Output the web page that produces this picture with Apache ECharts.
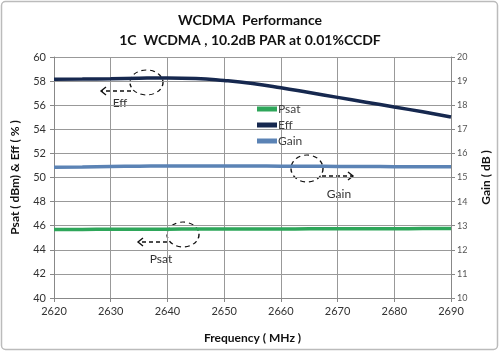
<!DOCTYPE html>
<html>
<head>
<meta charset="utf-8">
<script src="https://cdn.jsdelivr.net/npm/echarts@6/dist/echarts.min.js"></script>
<style>
  html, body { margin: 0; padding: 0; background: #fff; }
  #main { width: 500px; height: 352px; }
</style>
</head>
<body>
<div id="main"></div>
<script>
// data
var freq = [2620, 2625, 2630, 2635, 2640, 2645, 2650, 2655, 2660, 2665, 2670, 2675, 2680, 2685, 2690];
var psat = [45.68, 45.69, 45.70, 45.70, 45.71, 45.72, 45.72, 45.73, 45.73, 45.74, 45.74, 45.75, 45.75, 45.76, 45.76];
var eff = [58.15, 58.17, 58.2, 58.24, 58.26, 58.22, 58.05, 57.8, 57.45, 57.05, 56.65, 56.25, 55.85, 55.45, 55.02];
var gain = [15.43, 15.44, 15.46, 15.47, 15.48, 15.48, 15.48, 15.48, 15.47, 15.47, 15.46, 15.46, 15.45, 15.45, 15.45];

function pairs(ys) {
  return freq.map(function (f, i) { return [f, ys[i]]; });
}

var font = 'Lato, "Open Sans", sans-serif';
var myChart = echarts.init(document.getElementById('main'));

// dashed ellipse + dashed arrow + label, for the hand-drawn callouts
function callout(cx, cy, rx, ry, x1, x2, ay, tx, ty, label) {
  var dir = x2 < x1 ? 1 : -1;
  return [
    { type: 'circle', shape: { cx: 0, cy: 0, r: rx }, x: cx, y: cy, scaleY: ry / rx,
      style: { fill: 'none', stroke: '#111', lineWidth: 1.4, lineDash: [5, 4] } },
    { type: 'line', shape: { x1: x1, y1: ay, x2: x2, y2: ay },
      style: { stroke: '#111', lineWidth: 1.4, lineDash: [4, 3] } },
    { type: 'polyline', shape: { points: [[x2 + dir * 5, ay - 4], [x2, ay], [x2 + dir * 5, ay + 4]] },
      style: { fill: 'none', stroke: '#111', lineWidth: 1.4 } },
    { type: 'text', x: tx, y: ty,
      style: { text: label, font: '12px ' + font, fill: '#333', align: 'center', verticalAlign: 'middle' } }
  ];
}

var option = {
  title: [{
    text: 'WCDMA  Performance',
    left: 'center', top: 8,
    textStyle: { fontFamily: font, fontSize: 14, fontWeight: 'bold', color: '#111' }
  }, {
    text: '1C  WCDMA , 10.2dB PAR at 0.01%CCDF',
    left: 'center', top: 28,
    textStyle: { fontFamily: font, fontSize: 14, fontWeight: 'bold', color: '#111' }
  }],
  legend: {
    orient: 'vertical',
    left: 252, top: 98,
    itemWidth: 20, itemHeight: 5, itemGap: 4,
    icon: 'rect',
    textStyle: { fontFamily: font, fontSize: 12, color: '#404040', padding: [0, 0, 0, -4] },
    data: ['Psat', 'Eff', 'Gain']
  },
  grid: { left: 54, right: 47, top: 57, bottom: 54 },
  xAxis: {
    type: 'value',
    min: 2620, max: 2690, interval: 10,
    name: 'Frequency ( MHz )',
    nameLocation: 'middle', nameGap: 34,
    nameTextStyle: { fontFamily: font, fontSize: 12, fontWeight: 'bold', color: '#111' },
    axisLine: { lineStyle: { color: '#888' } },
    axisTick: { show: true, length: 4, lineStyle: { color: '#888' } },
    axisLabel: { fontFamily: font, fontSize: 11, color: '#333', margin: 8,
      formatter: function (v) { return String(v); } },
    splitLine: { show: true, lineStyle: { color: '#999', width: 1 } }
  },
  yAxis: [{
    type: 'value',
    min: 40, max: 60, interval: 2,
    name: 'Psat ( dBm) & Eff ( % )',
    nameLocation: 'middle', nameGap: 33,
    nameTextStyle: { fontFamily: font, fontSize: 12, fontWeight: 'bold', color: '#111' },
    axisLine: { show: true, lineStyle: { color: '#888' } },
    axisTick: { show: true, length: 4, lineStyle: { color: '#888' } },
    axisLabel: { fontFamily: font, fontSize: 11, color: '#333', margin: 8 },
    splitLine: { show: true, lineStyle: { color: '#999', width: 1 } }
  }, {
    type: 'value',
    min: 10, max: 20, interval: 1,
    name: 'Gain ( dB )',
    nameLocation: 'middle', nameGap: 29,
    nameRotate: 90,
    nameTextStyle: { fontFamily: font, fontSize: 12, fontWeight: 'bold', color: '#111' },
    axisLine: { show: true, lineStyle: { color: '#888' } },
    axisTick: { show: true, length: 4, lineStyle: { color: '#888' } },
    axisLabel: { fontFamily: font, fontSize: 9, color: '#555', margin: 6 },
    splitLine: { show: false }
  }],
  series: [{
    name: 'Psat', type: 'line', yAxisIndex: 0,
    data: pairs(psat), symbol: 'none', smooth: true,
    lineStyle: { color: '#2ea65a', width: 3.5 },
    itemStyle: { color: '#2ea65a' }
  }, {
    name: 'Eff', type: 'line', yAxisIndex: 0,
    data: pairs(eff), symbol: 'none', smooth: true,
    lineStyle: { color: '#16284f', width: 3.5 },
    itemStyle: { color: '#16284f' }
  }, {
    name: 'Gain', type: 'line', yAxisIndex: 1,
    data: pairs(gain), symbol: 'none', smooth: true,
    lineStyle: { color: '#5b83b5', width: 3.5 },
    itemStyle: { color: '#5b83b5' }
  }],
  graphic: [
    { type: 'rect', shape: { x: 1.5, y: 1.5, width: 496, height: 348, r: 4 },
      style: { fill: 'none', stroke: '#bbb', lineWidth: 1.5 }, silent: true }
  ]
    .concat(callout(146.5, 82.5, 16.5, 12.5, 131, 101, 91, 120, 103, 'Eff'))
    .concat(callout(307, 168.5, 16, 13.5, 322, 353, 176, 339, 194, 'Gain'))
    .concat(callout(183, 234.5, 16, 12.5, 167, 138, 242, 161, 259, 'Psat'))
};

myChart.setOption(option);
</script>
</body>
</html>
